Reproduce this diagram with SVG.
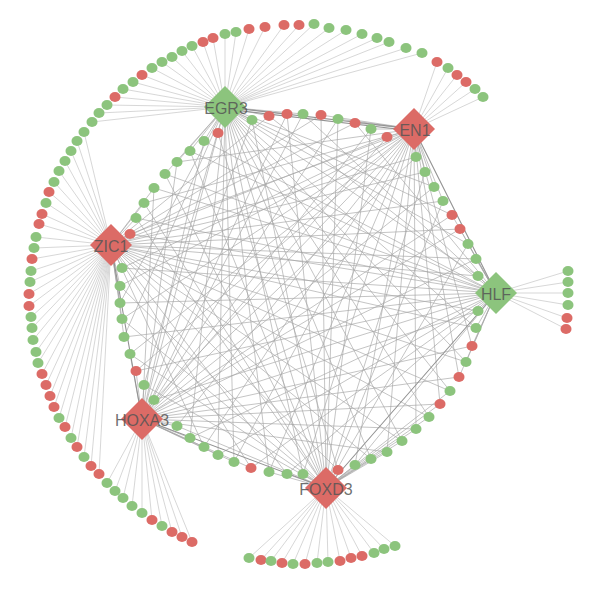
<svg xmlns="http://www.w3.org/2000/svg" width="600" height="590" viewBox="0 0 600 590">
<style>
.o{fill:none;stroke:#c6c6c6;stroke-width:.7}
.i{fill:none;stroke:#a4a4a4;stroke-width:.65}
.h{fill:none;stroke:#929292;stroke-width:1.1}
.g{fill:#8cc47d}
.r{fill:#dc6b66}
.lb{font-family:"Liberation Sans",Arial,sans-serif;font-size:16px;fill:#555;fill-opacity:.85;text-anchor:middle;dominant-baseline:central}
</style>
<rect width="600" height="590" fill="#fff"/>
<g id="connectors">
<path class="o" d="M225 107L92 122M225 107L99 113M225 107L107 105M225 107L115 97M225 107L123 89M225 107L133 82M225 107L142 75M225 107L152 68M225 107L162 62M225 107L172 57M225 107L182 51M225 107L192 46M225 107L203 42M225 107L213 38M225 107L225 34M225 107L236 32M225 107L249 29M225 107L265 27M225 107L284 25M225 107L299 25M225 107L314 24M225 107L329 28M225 107L346 30M225 107L362 34M225 107L377 38M225 107L389 42M225 107L406 48M225 107L422 53"/>
<path class="o" d="M111 245L84 132M111 245L77 141M111 245L71 151M111 245L65 161M111 245L59 171M111 245L54 182M111 245L49 192M111 245L46 203M111 245L42 214M111 245L39 224M111 245L36 237M111 245L34 248M111 245L32 259M111 245L31 271M111 245L30 282M111 245L29 294M111 245L29 306M111 245L31 317M111 245L32 328M111 245L33 340M111 245L36 352M111 245L38 363M111 245L42 374M111 245L46 385M111 245L50 396M111 245L54 407M111 245L59 418M111 245L65 427M111 245L71 438M111 245L77 447M111 245L84 457M111 245L91 466M111 245L99 474"/>
<path class="o" d="M142 419L107 483M142 419L115 491M142 419L123 498M142 419L132 506M142 419L142 513M142 419L152 520M142 419L162 526M142 419L172 532M142 419L182 537M142 419L192 542"/>
<path class="o" d="M326 488L249 558M326 488L261 560M326 488L271 561M326 488L282 563M326 488L293 564M326 488L305 564M326 488L317 563M326 488L328 562M326 488L340 561M326 488L351 558M326 488L362 556M326 488L374 553M326 488L384 549M326 488L395 546"/>
<path class="o" d="M414 129L437 62M414 129L448 68M414 129L457 75M414 129L466 82M414 129L475 89M414 129L483 97"/>
<path class="o" d="M496 293L568 271M496 293L568 282M496 293L568 293M496 293L568 305M496 293L567 318M496 293L566 329"/>
<path class="i" d="M225 107L252 120M225 107L269 116M225 107L287 114M225 107L303 114M225 107L434 187M225 107L452 215M225 107L468 244M225 107L478 276M225 107L476 328M225 107L466 362M225 107L450 391M225 107L429 417M225 107L402 441M225 107L371 459M225 107L338 470M225 107L303 474M225 107L269 472M225 107L234 462M225 107L218 455M225 107L190 438M225 107L144 385M225 107L124 337M225 107L120 303M225 107L165 174M225 107L177 162M225 107L190 151M225 107L204 141M225 107L218 133"/>
<path class="i" d="M414 129L321 115M414 129L338 119M414 129L355 123M414 129L371 129M414 129L387 137M414 129L416 157M414 129L425 172M414 129L434 187M414 129L443 201M414 129L472 346M414 129L459 377M414 129L440 404M414 129L416 429M414 129L387 452M414 129L355 465M414 129L303 474M414 129L269 472M414 129L234 462M414 129L204 447M414 129L177 426M414 129L154 400M414 129L136 371M414 129L130 354M414 129L122 319M414 129L120 286M414 129L122 268M414 129L130 234M414 129L144 203M414 129L177 162"/>
<path class="i" d="M496 293L269 116M496 293L303 114M496 293L355 123M496 293L452 215M496 293L460 229M496 293L468 244M496 293L476 259M496 293L478 276M496 293L478 311M496 293L476 328M496 293L472 346M496 293L466 362M496 293L459 377M496 293L355 465M496 293L287 474M496 293L251 468M496 293L218 455M496 293L190 438M496 293L154 400M496 293L136 371M496 293L124 337M496 293L120 303M496 293L122 268M496 293L130 234M496 293L136 218M496 293L154 188M496 293L165 174M496 293L190 151M496 293L204 141"/>
<path class="i" d="M326 488L252 120M326 488L287 114M326 488L321 115M326 488L338 119M326 488L371 129M326 488L425 172M326 488L443 201M326 488L468 244M326 488L450 391M326 488L440 404M326 488L429 417M326 488L416 429M326 488L402 441M326 488L387 452M326 488L371 459M326 488L355 465M326 488L338 470M326 488L303 474M326 488L287 474M326 488L269 472M326 488L177 426M326 488L144 385M326 488L130 354M326 488L122 319M326 488L120 286M326 488L136 218M326 488L144 203M326 488L165 174M326 488L190 151M326 488L218 133"/>
<path class="i" d="M142 419L252 120M142 419L287 114M142 419L303 114M142 419L338 119M142 419L371 129M142 419L387 137M142 419L416 157M142 419L434 187M142 419L452 215M142 419L460 229M142 419L476 259M142 419L478 311M142 419L472 346M142 419L459 377M142 419L440 404M142 419L416 429M142 419L387 452M142 419L251 468M142 419L234 462M142 419L218 455M142 419L204 447M142 419L190 438M142 419L177 426M142 419L154 400M142 419L144 385M142 419L136 371M142 419L130 354M142 419L154 188M142 419L177 162M142 419L204 141M142 419L218 133"/>
<path class="i" d="M111 245L269 116M111 245L321 115M111 245L355 123M111 245L387 137M111 245L416 157M111 245L425 172M111 245L443 201M111 245L460 229M111 245L476 259M111 245L478 276M111 245L478 311M111 245L476 328M111 245L466 362M111 245L450 391M111 245L429 417M111 245L402 441M111 245L371 459M111 245L338 470M111 245L287 474M111 245L251 468M111 245L204 447M111 245L124 337M111 245L122 319M111 245L120 303M111 245L120 286M111 245L122 268M111 245L130 234M111 245L136 218M111 245L144 203M111 245L154 188"/>
<path class="h" d="M225 107L414 129M225 109L414 131M414 129L496 293M496 293L326 488M326 488L142 419M142 419L111 245"/>
</g>
<g id="n-egr3-fan">
<g id="o1"><ellipse class="g" cx="92" cy="122" rx="5.5" ry="5"/></g>
<g id="o2"><ellipse class="g" cx="99" cy="113" rx="5.5" ry="5"/></g>
<g id="o3"><ellipse class="g" cx="107" cy="105" rx="5.5" ry="5"/></g>
<g id="o4"><ellipse class="r" cx="115" cy="97" rx="5.5" ry="5"/></g>
<g id="o5"><ellipse class="g" cx="123" cy="89" rx="5.5" ry="5"/></g>
<g id="o6"><ellipse class="g" cx="133" cy="82" rx="5.5" ry="5"/></g>
<g id="o7"><ellipse class="r" cx="142" cy="75" rx="5.5" ry="5"/></g>
<g id="o8"><ellipse class="g" cx="152" cy="68" rx="5.5" ry="5"/></g>
<g id="o9"><ellipse class="g" cx="162" cy="62" rx="5.5" ry="5"/></g>
<g id="o10"><ellipse class="g" cx="172" cy="57" rx="5.5" ry="5"/></g>
<g id="o11"><ellipse class="g" cx="182" cy="51" rx="5.5" ry="5"/></g>
<g id="o12"><ellipse class="g" cx="192" cy="46" rx="5.5" ry="5"/></g>
<g id="o13"><ellipse class="r" cx="203" cy="42" rx="5.5" ry="5"/></g>
<g id="o14"><ellipse class="r" cx="213" cy="38" rx="5.5" ry="5"/></g>
<g id="o15"><ellipse class="g" cx="225" cy="34" rx="5.5" ry="5"/></g>
<g id="o16"><ellipse class="g" cx="236" cy="32" rx="5.5" ry="5"/></g>
<g id="o17"><ellipse class="r" cx="249" cy="29" rx="5.5" ry="5"/></g>
<g id="o18"><ellipse class="r" cx="265" cy="27" rx="5.5" ry="5"/></g>
<g id="o19"><ellipse class="r" cx="284" cy="25" rx="5.5" ry="5"/></g>
<g id="o20"><ellipse class="r" cx="299" cy="25" rx="5.5" ry="5"/></g>
<g id="o21"><ellipse class="g" cx="314" cy="24" rx="5.5" ry="5"/></g>
<g id="o22"><ellipse class="g" cx="329" cy="28" rx="5.5" ry="5"/></g>
<g id="o23"><ellipse class="g" cx="346" cy="30" rx="5.5" ry="5"/></g>
<g id="o24"><ellipse class="g" cx="362" cy="34" rx="5.5" ry="5"/></g>
<g id="o25"><ellipse class="g" cx="377" cy="38" rx="5.5" ry="5"/></g>
<g id="o26"><ellipse class="g" cx="389" cy="42" rx="5.5" ry="5"/></g>
<g id="o27"><ellipse class="g" cx="406" cy="48" rx="5.5" ry="5"/></g>
<g id="o28"><ellipse class="g" cx="422" cy="53" rx="5.5" ry="5"/></g>
</g>
<g id="n-zic1-fan">
<g id="z1"><ellipse class="g" cx="84" cy="132" rx="5.5" ry="5"/></g>
<g id="z2"><ellipse class="g" cx="77" cy="141" rx="5.5" ry="5"/></g>
<g id="z3"><ellipse class="g" cx="71" cy="151" rx="5.5" ry="5"/></g>
<g id="z4"><ellipse class="g" cx="65" cy="161" rx="5.5" ry="5"/></g>
<g id="z5"><ellipse class="g" cx="59" cy="171" rx="5.5" ry="5"/></g>
<g id="z6"><ellipse class="g" cx="54" cy="182" rx="5.5" ry="5"/></g>
<g id="z7"><ellipse class="r" cx="49" cy="192" rx="5.5" ry="5"/></g>
<g id="z8"><ellipse class="g" cx="46" cy="203" rx="5.5" ry="5"/></g>
<g id="z9"><ellipse class="r" cx="42" cy="214" rx="5.5" ry="5"/></g>
<g id="z10"><ellipse class="r" cx="39" cy="224" rx="5.5" ry="5"/></g>
<g id="z11"><ellipse class="g" cx="36" cy="237" rx="5.5" ry="5"/></g>
<g id="z12"><ellipse class="g" cx="34" cy="248" rx="5.5" ry="5"/></g>
<g id="z13"><ellipse class="r" cx="32" cy="259" rx="5.5" ry="5"/></g>
<g id="z14"><ellipse class="g" cx="31" cy="271" rx="5.5" ry="5"/></g>
<g id="z15"><ellipse class="g" cx="30" cy="282" rx="5.5" ry="5"/></g>
<g id="z16"><ellipse class="r" cx="29" cy="294" rx="5.5" ry="5"/></g>
<g id="z17"><ellipse class="r" cx="29" cy="306" rx="5.5" ry="5"/></g>
<g id="z18"><ellipse class="g" cx="31" cy="317" rx="5.5" ry="5"/></g>
<g id="z19"><ellipse class="g" cx="32" cy="328" rx="5.5" ry="5"/></g>
<g id="z20"><ellipse class="g" cx="33" cy="340" rx="5.5" ry="5"/></g>
<g id="z21"><ellipse class="g" cx="36" cy="352" rx="5.5" ry="5"/></g>
<g id="z22"><ellipse class="g" cx="38" cy="363" rx="5.5" ry="5"/></g>
<g id="z23"><ellipse class="r" cx="42" cy="374" rx="5.5" ry="5"/></g>
<g id="z24"><ellipse class="r" cx="46" cy="385" rx="5.5" ry="5"/></g>
<g id="z25"><ellipse class="r" cx="50" cy="396" rx="5.5" ry="5"/></g>
<g id="z26"><ellipse class="r" cx="54" cy="407" rx="5.5" ry="5"/></g>
<g id="z27"><ellipse class="g" cx="59" cy="418" rx="5.5" ry="5"/></g>
<g id="z28"><ellipse class="r" cx="65" cy="427" rx="5.5" ry="5"/></g>
<g id="z29"><ellipse class="g" cx="71" cy="438" rx="5.5" ry="5"/></g>
<g id="z30"><ellipse class="r" cx="77" cy="447" rx="5.5" ry="5"/></g>
<g id="z31"><ellipse class="g" cx="84" cy="457" rx="5.5" ry="5"/></g>
<g id="z32"><ellipse class="r" cx="91" cy="466" rx="5.5" ry="5"/></g>
<g id="z33"><ellipse class="r" cx="99" cy="474" rx="5.5" ry="5"/></g>
</g>
<g id="n-hoxa3-fan">
<g id="x1"><ellipse class="g" cx="107" cy="483" rx="5.5" ry="5"/></g>
<g id="x2"><ellipse class="g" cx="115" cy="491" rx="5.5" ry="5"/></g>
<g id="x3"><ellipse class="g" cx="123" cy="498" rx="5.5" ry="5"/></g>
<g id="x4"><ellipse class="g" cx="132" cy="506" rx="5.5" ry="5"/></g>
<g id="x5"><ellipse class="g" cx="142" cy="513" rx="5.5" ry="5"/></g>
<g id="x6"><ellipse class="r" cx="152" cy="520" rx="5.5" ry="5"/></g>
<g id="x7"><ellipse class="g" cx="162" cy="526" rx="5.5" ry="5"/></g>
<g id="x8"><ellipse class="r" cx="172" cy="532" rx="5.5" ry="5"/></g>
<g id="x9"><ellipse class="r" cx="182" cy="537" rx="5.5" ry="5"/></g>
<g id="x10"><ellipse class="r" cx="192" cy="542" rx="5.5" ry="5"/></g>
</g>
<g id="n-foxd3-fan">
<g id="fo1"><ellipse class="g" cx="249" cy="558" rx="5.5" ry="5"/></g>
<g id="fo2"><ellipse class="r" cx="261" cy="560" rx="5.5" ry="5"/></g>
<g id="fo3"><ellipse class="g" cx="271" cy="561" rx="5.5" ry="5"/></g>
<g id="fo4"><ellipse class="r" cx="282" cy="563" rx="5.5" ry="5"/></g>
<g id="fo5"><ellipse class="g" cx="293" cy="564" rx="5.5" ry="5"/></g>
<g id="fo6"><ellipse class="r" cx="305" cy="564" rx="5.5" ry="5"/></g>
<g id="fo7"><ellipse class="g" cx="317" cy="563" rx="5.5" ry="5"/></g>
<g id="fo8"><ellipse class="g" cx="328" cy="562" rx="5.5" ry="5"/></g>
<g id="fo9"><ellipse class="r" cx="340" cy="561" rx="5.5" ry="5"/></g>
<g id="fo10"><ellipse class="r" cx="351" cy="558" rx="5.5" ry="5"/></g>
<g id="fo11"><ellipse class="r" cx="362" cy="556" rx="5.5" ry="5"/></g>
<g id="fo12"><ellipse class="g" cx="374" cy="553" rx="5.5" ry="5"/></g>
<g id="fo13"><ellipse class="g" cx="384" cy="549" rx="5.5" ry="5"/></g>
<g id="fo14"><ellipse class="g" cx="395" cy="546" rx="5.5" ry="5"/></g>
</g>
<g id="n-en1-fan">
<g id="no1"><ellipse class="r" cx="437" cy="62" rx="5.5" ry="5"/></g>
<g id="no2"><ellipse class="g" cx="448" cy="68" rx="5.5" ry="5"/></g>
<g id="no3"><ellipse class="r" cx="457" cy="75" rx="5.5" ry="5"/></g>
<g id="no4"><ellipse class="r" cx="466" cy="82" rx="5.5" ry="5"/></g>
<g id="no5"><ellipse class="g" cx="475" cy="89" rx="5.5" ry="5"/></g>
<g id="no6"><ellipse class="g" cx="483" cy="97" rx="5.5" ry="5"/></g>
</g>
<g id="n-hlf-fan">
<g id="ho1"><ellipse class="g" cx="568" cy="271" rx="5.5" ry="5"/></g>
<g id="ho2"><ellipse class="g" cx="568" cy="282" rx="5.5" ry="5"/></g>
<g id="ho3"><ellipse class="g" cx="568" cy="293" rx="5.5" ry="5"/></g>
<g id="ho4"><ellipse class="g" cx="568" cy="305" rx="5.5" ry="5"/></g>
<g id="ho5"><ellipse class="r" cx="567" cy="318" rx="5.5" ry="5"/></g>
<g id="ho6"><ellipse class="r" cx="566" cy="329" rx="5.5" ry="5"/></g>
</g>
<g id="n-inner">
<g id="a1"><ellipse class="g" cx="252" cy="120" rx="5.5" ry="5"/></g>
<g id="a2"><ellipse class="r" cx="269" cy="116" rx="5.5" ry="5"/></g>
<g id="a3"><ellipse class="r" cx="287" cy="114" rx="5.5" ry="5"/></g>
<g id="a4"><ellipse class="g" cx="303" cy="114" rx="5.5" ry="5"/></g>
<g id="a5"><ellipse class="r" cx="321" cy="115" rx="5.5" ry="5"/></g>
<g id="a6"><ellipse class="g" cx="338" cy="119" rx="5.5" ry="5"/></g>
<g id="a7"><ellipse class="r" cx="355" cy="123" rx="5.5" ry="5"/></g>
<g id="a8"><ellipse class="g" cx="371" cy="129" rx="5.5" ry="5"/></g>
<g id="a9"><ellipse class="r" cx="387" cy="137" rx="5.5" ry="5"/></g>
<g id="b1"><ellipse class="g" cx="416" cy="157" rx="5.5" ry="5"/></g>
<g id="b2"><ellipse class="g" cx="425" cy="172" rx="5.5" ry="5"/></g>
<g id="b3"><ellipse class="g" cx="434" cy="187" rx="5.5" ry="5"/></g>
<g id="b4"><ellipse class="g" cx="443" cy="201" rx="5.5" ry="5"/></g>
<g id="b5"><ellipse class="r" cx="452" cy="215" rx="5.5" ry="5"/></g>
<g id="b6"><ellipse class="r" cx="460" cy="229" rx="5.5" ry="5"/></g>
<g id="b7"><ellipse class="g" cx="468" cy="244" rx="5.5" ry="5"/></g>
<g id="b8"><ellipse class="g" cx="476" cy="259" rx="5.5" ry="5"/></g>
<g id="b9"><ellipse class="g" cx="478" cy="276" rx="5.5" ry="5"/></g>
<g id="c1"><ellipse class="g" cx="478" cy="311" rx="5.5" ry="5"/></g>
<g id="c2"><ellipse class="g" cx="476" cy="328" rx="5.5" ry="5"/></g>
<g id="c3"><ellipse class="r" cx="472" cy="346" rx="5.5" ry="5"/></g>
<g id="c4"><ellipse class="g" cx="466" cy="362" rx="5.5" ry="5"/></g>
<g id="c5"><ellipse class="r" cx="459" cy="377" rx="5.5" ry="5"/></g>
<g id="c6"><ellipse class="g" cx="450" cy="391" rx="5.5" ry="5"/></g>
<g id="c7"><ellipse class="r" cx="440" cy="404" rx="5.5" ry="5"/></g>
<g id="c8"><ellipse class="g" cx="429" cy="417" rx="5.5" ry="5"/></g>
<g id="c9"><ellipse class="g" cx="416" cy="429" rx="5.5" ry="5"/></g>
<g id="c10"><ellipse class="g" cx="402" cy="441" rx="5.5" ry="5"/></g>
<g id="c11"><ellipse class="g" cx="387" cy="452" rx="5.5" ry="5"/></g>
<g id="c12"><ellipse class="g" cx="371" cy="459" rx="5.5" ry="5"/></g>
<g id="c13"><ellipse class="g" cx="355" cy="465" rx="5.5" ry="5"/></g>
<g id="c14"><ellipse class="r" cx="338" cy="470" rx="5.5" ry="5"/></g>
<g id="d1"><ellipse class="g" cx="303" cy="474" rx="5.5" ry="5"/></g>
<g id="d2"><ellipse class="g" cx="287" cy="474" rx="5.5" ry="5"/></g>
<g id="d3"><ellipse class="g" cx="269" cy="472" rx="5.5" ry="5"/></g>
<g id="d4"><ellipse class="r" cx="251" cy="468" rx="5.5" ry="5"/></g>
<g id="d5"><ellipse class="g" cx="234" cy="462" rx="5.5" ry="5"/></g>
<g id="d6"><ellipse class="g" cx="218" cy="455" rx="5.5" ry="5"/></g>
<g id="d7"><ellipse class="g" cx="204" cy="447" rx="5.5" ry="5"/></g>
<g id="d8"><ellipse class="g" cx="190" cy="438" rx="5.5" ry="5"/></g>
<g id="d9"><ellipse class="g" cx="177" cy="426" rx="5.5" ry="5"/></g>
<g id="e1"><ellipse class="g" cx="154" cy="400" rx="5.5" ry="5"/></g>
<g id="e2"><ellipse class="g" cx="144" cy="385" rx="5.5" ry="5"/></g>
<g id="e3"><ellipse class="r" cx="136" cy="371" rx="5.5" ry="5"/></g>
<g id="e4"><ellipse class="g" cx="130" cy="354" rx="5.5" ry="5"/></g>
<g id="e5"><ellipse class="g" cx="124" cy="337" rx="5.5" ry="5"/></g>
<g id="e6"><ellipse class="g" cx="122" cy="319" rx="5.5" ry="5"/></g>
<g id="e7"><ellipse class="g" cx="120" cy="303" rx="5.5" ry="5"/></g>
<g id="e8"><ellipse class="g" cx="120" cy="286" rx="5.5" ry="5"/></g>
<g id="e9"><ellipse class="g" cx="122" cy="268" rx="5.5" ry="5"/></g>
<g id="f1"><ellipse class="r" cx="130" cy="234" rx="5.5" ry="5"/></g>
<g id="f2"><ellipse class="g" cx="136" cy="218" rx="5.5" ry="5"/></g>
<g id="f3"><ellipse class="g" cx="144" cy="203" rx="5.5" ry="5"/></g>
<g id="f4"><ellipse class="g" cx="154" cy="188" rx="5.5" ry="5"/></g>
<g id="f5"><ellipse class="g" cx="165" cy="174" rx="5.5" ry="5"/></g>
<g id="f6"><ellipse class="g" cx="177" cy="162" rx="5.5" ry="5"/></g>
<g id="f7"><ellipse class="g" cx="190" cy="151" rx="5.5" ry="5"/></g>
<g id="f8"><ellipse class="g" cx="204" cy="141" rx="5.5" ry="5"/></g>
<g id="f9"><ellipse class="r" cx="218" cy="133" rx="5.5" ry="5"/></g>
</g>
<g id="EGR3"><path class="g" d="M225 86L246 107L225 128L204 107Z"/><text class="lb" x="226" y="108">EGR3</text></g>
<g id="EN1"><path class="r" d="M414 108L435 129L414 150L393 129Z"/><text class="lb" x="415" y="130">EN1</text></g>
<g id="HLF"><path class="g" d="M496 272L517 293L496 314L475 293Z"/><text class="lb" x="496" y="294">HLF</text></g>
<g id="FOXD3"><path class="r" d="M326 467L347 488L326 509L305 488Z"/><text class="lb" x="326" y="489">FOXD3</text></g>
<g id="HOXA3"><path class="r" d="M142 398L163 419L142 440L121 419Z"/><text class="lb" x="142" y="420">HOXA3</text></g>
<g id="ZIC1"><path class="r" d="M111 224L132 245L111 266L90 245Z"/><text class="lb" x="111" y="246">ZIC1</text></g>
</svg>
